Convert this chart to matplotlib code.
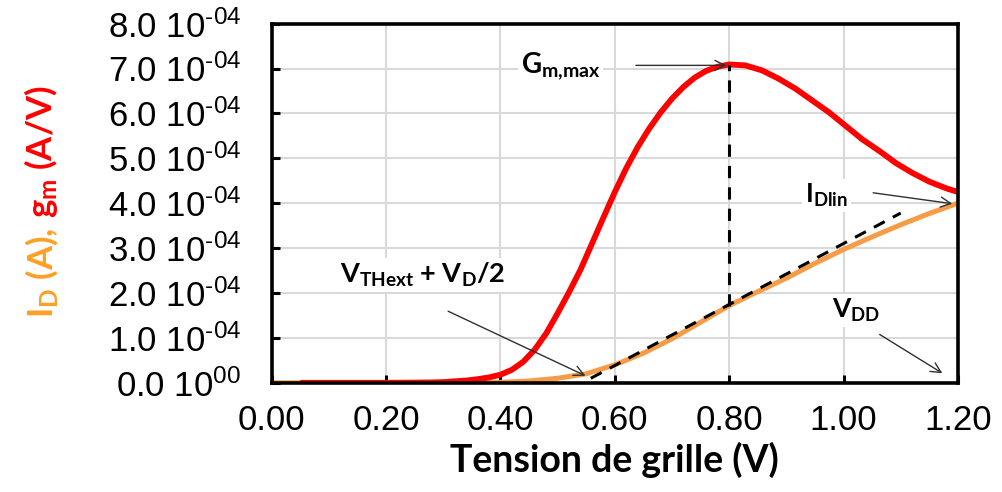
import matplotlib
matplotlib.use("Agg")
from matplotlib import pyplot as plt

# grid voltage (V) and curves (units of 1e-4)
vg_id = [0.00, 0.10, 0.20, 0.30, 0.35, 0.40, 0.45, 0.50, 0.55, 0.60, 0.65, 0.70,
         0.75, 0.80, 0.85, 0.90, 0.95, 1.00, 1.05, 1.10, 1.15, 1.20]
id_a = [0.0, 0.0, 0.0, 0.0, 0.002, 0.01, 0.04, 0.10, 0.20, 0.40, 0.66, 0.98,
        1.35, 1.72, 2.03, 2.33, 2.66, 2.97, 3.25, 3.52, 3.77, 4.00]

vg_gm = [0.05, 0.15, 0.20, 0.25, 0.28, 0.30, 0.34, 0.36, 0.38, 0.40, 0.42, 0.44,
         0.46, 0.48, 0.50, 0.52, 0.54, 0.56, 0.58, 0.60, 0.62, 0.64, 0.66, 0.68,
         0.70, 0.72, 0.74, 0.76, 0.78, 0.80, 0.828, 0.857, 0.887, 0.916, 0.945,
         0.975, 1.004, 1.033, 1.063, 1.092, 1.121, 1.150, 1.180, 1.20]
gm = [0.0, 0.0, 0.0, 0.004, 0.008, 0.015, 0.05, 0.08, 0.12, 0.18, 0.29, 0.47,
      0.74, 1.10, 1.55, 2.02, 2.52, 3.10, 3.68, 4.25, 4.78, 5.25, 5.66, 6.02,
      6.33, 6.59, 6.80, 6.95, 7.04, 7.09, 7.07, 6.96, 6.77, 6.55, 6.29,
      6.02, 5.72, 5.42, 5.16, 4.89, 4.67, 4.48, 4.33, 4.25]

tangent_x = [0.558, 1.10]
tangent_y = [0.10, 3.78]
vmax_x = [0.80, 0.80]
vmax_y = [1.72, 7.08]

xticks = [0.0, 0.2, 0.4, 0.6, 0.8, 1.0, 1.2]
xlabels = ["0.00", "0.20", "0.40", "0.60", "0.80", "1.00", "1.20"]
yticks = [0, 1, 2, 3, 4, 5, 6, 7, 8]
ylabels = ["0.0 10$^{00}$"] + ["%d.0 10$^{\u201004}$" % k for k in range(1, 9)]

scale = 1e-4
plt.rcParams["mathtext.default"] = "regular"
plt.rcParams["font.family"] = ["Liberation Sans", "DejaVu Sans"]

fig = plt.figure(figsize=(10.03, 4.92), dpi=100)
ax = fig.add_axes([0.271, 0.222, 0.684, 0.730])

ax.plot(vg_id, [v * scale for v in id_a], color="#F79C46", lw=3.6, solid_capstyle="butt", zorder=3)
ax.plot(vg_gm, [v * scale for v in gm], color="#FF0000", lw=4.2, solid_capstyle="butt", zorder=4)
ax.plot(tangent_x, [v * scale for v in tangent_y], color="black", lw=2.2, ls=(0, (4, 3)), zorder=5)
ax.plot(vmax_x, [v * scale for v in vmax_y], color="black", lw=2.2, ls=(0, (4, 3)), zorder=5)

ax.set_xlim(0, 1.2)
ax.set_ylim(0, 8 * scale)
ax.set_xticks(xticks)
ax.set_xticklabels(xlabels)
ax.set_yticks([v * scale for v in yticks])
ax.set_yticklabels(ylabels)
ax.tick_params(axis="both", direction="in", length=6, width=2.2, labelsize=25, color="black")
ax.tick_params(axis="x", pad=15)
ax.tick_params(axis="y", pad=22)
ax.grid(True, color="#d9d9d9", lw=1.5, zorder=0)
ax.set_axisbelow(True)
for s in ax.spines.values():
    s.set_linewidth(2.6)
    s.set_zorder(6)

bold = dict(family=["Lato", "DejaVu Sans"], weight="bold", color="black")
box = dict(facecolor="white", edgecolor="none", pad=2)
arrow = dict(arrowstyle="->", color="#303030", lw=1.0, mutation_scale=18)

ax.text(0.436, 6.91 * scale, "G$_{m{,}max}$", fontsize=20, bbox=box, zorder=7, **bold)
ax.annotate("", xy=(0.80, 7.07 * scale), xytext=(0.632, 7.07 * scale), arrowprops=arrow, zorder=7)

ax.text(0.933, 4.0 * scale, "I$_{Dlin}$", fontsize=19, bbox=box, zorder=7, **bold)
ax.annotate("", xy=(1.195, 3.98 * scale), xytext=(1.047, 4.24 * scale), arrowprops=arrow, zorder=7)

ax.text(0.98, 1.44 * scale, "V$_{DD}$", fontsize=19, bbox=box, zorder=7, **bold)
ax.annotate("", xy=(1.177, 0.18 * scale), xytext=(1.059, 1.11 * scale), arrowprops=arrow, zorder=7)

ax.text(0.12, 2.22 * scale, "V$_{THext}$ + V$_D$/2", fontsize=19.5, bbox=box, zorder=7, **bold)
ax.annotate("", xy=(0.553, 0.13 * scale), xytext=(0.304, 1.62 * scale), arrowprops=arrow, zorder=7)

ax.set_xlabel("Tension de grille (V)", fontsize=27, labelpad=4, **bold)

# two-colour y label: orange part first, red part stacked right above it
lab = dict(rotation=90, rotation_mode="anchor", ha="left", va="baseline",
           fontsize=25, family=["Lato", "DejaVu Sans"], weight="bold")
t1 = fig.text(0.052, 1 - 318 / 492, "I$_D$ (A),", color="#FFA024", **lab)
fig.canvas.draw()
bb = t1.get_window_extent(fig.canvas.get_renderer())
fig.text(0.052, (bb.y1 + 10) / fig.bbox.height, "g$_m$ (A/V)", color="#FF0000", **lab)

fig.savefig("out.png", dpi=100)
